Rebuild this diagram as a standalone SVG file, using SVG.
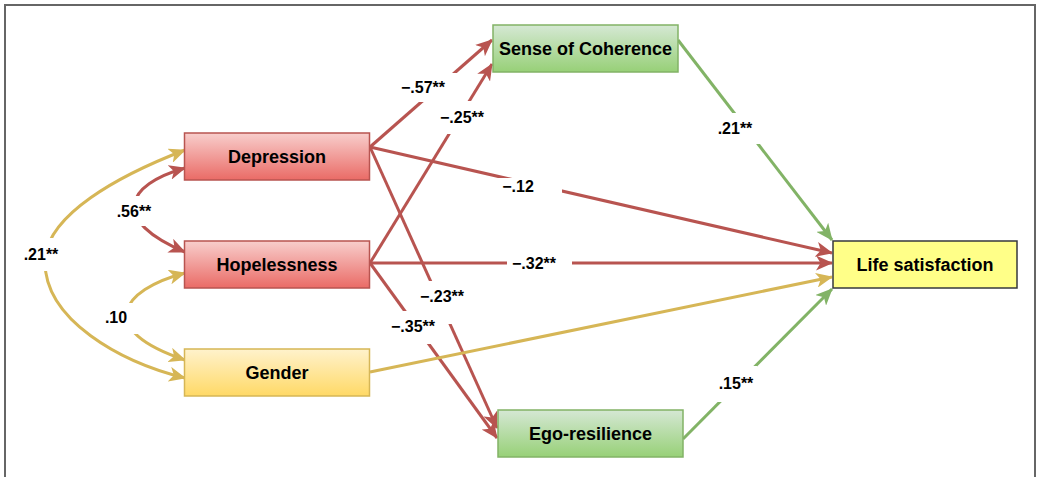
<svg xmlns="http://www.w3.org/2000/svg" width="1037" height="477" viewBox="0 0 1037 477">
<style>
text{font-family:"Liberation Sans",Arial,sans-serif;font-weight:bold;fill:#000;}
.nl{font-size:18px;text-anchor:middle;}
.el{font-size:16px;text-anchor:middle;}
.c{fill:none;stroke-width:3;}
.r{stroke:#b85450;}
.y{stroke:#d6b656;}
.g{stroke:#82b366;}
.bg{fill:#fff;stroke:none;}
</style>
<defs>
<linearGradient id="gr" x1="0" y1="0" x2="0" y2="1"><stop offset="0" stop-color="#f8cecc"/><stop offset="1" stop-color="#ea6b66"/></linearGradient>
<linearGradient id="gy" x1="0" y1="0" x2="0" y2="1"><stop offset="0" stop-color="#fff2cc"/><stop offset="1" stop-color="#ffd966"/></linearGradient>
<linearGradient id="gg" x1="0" y1="0" x2="0" y2="1"><stop offset="0" stop-color="#d5e8d4"/><stop offset="1" stop-color="#97d077"/></linearGradient>
<marker id="ar" viewBox="0 0 17 15" refX="16" refY="7.5" markerWidth="17" markerHeight="15" markerUnits="userSpaceOnUse" orient="auto-start-reverse"><path d="M0,0 L17,7.5 L0,15 L4.5,7.5 Z" fill="#b85450"/></marker>
<marker id="ay" viewBox="0 0 17 15" refX="16" refY="7.5" markerWidth="17" markerHeight="15" markerUnits="userSpaceOnUse" orient="auto-start-reverse"><path d="M0,0 L17,7.5 L0,15 L4.5,7.5 Z" fill="#d6b656"/></marker>
<marker id="ag" viewBox="0 0 17 15" refX="16" refY="7.5" markerWidth="17" markerHeight="15" markerUnits="userSpaceOnUse" orient="auto-start-reverse"><path d="M0,0 L17,7.5 L0,15 L4.5,7.5 Z" fill="#82b366"/></marker>
</defs>
<rect width="1037" height="477" fill="#fff"/>
<path d="M5,477 V5 H1035 V477" fill="none" stroke="#666" stroke-width="2"/>
<g id="connectors">
<path class="c r" d="M370,147 L492,40" marker-end="url(#ar)"/>
<path class="c r" d="M370,263 L492,64" marker-end="url(#ar)"/>
<path class="c r" d="M370,147 L832,253" marker-end="url(#ar)"/>
<path class="c r" d="M370,147 L497,428" marker-end="url(#ar)"/>
<path class="c r" d="M370,263 L832,263" marker-end="url(#ar)"/>
<path class="c r" d="M370,263 L497,438" marker-end="url(#ar)"/>
<path class="c r" d="M185,168 C125,185 110,220 185,252" marker-start="url(#ar)" marker-end="url(#ar)"/>
<path class="c y" d="M370,372 L832,277" marker-end="url(#ay)"/>
<path class="c y" d="M185,150 C120,175 45,215 45,262 C45,320 120,362 185,378" marker-start="url(#ay)" marker-end="url(#ay)"/>
<path class="c y" d="M185,273 C120,290 95,330 185,360" marker-start="url(#ay)" marker-end="url(#ay)"/>
<path class="c g" d="M678,40 L832,240" marker-end="url(#ag)"/>
<path class="c g" d="M683,439 L832,289" marker-end="url(#ag)"/>
<rect class="bg" x="398" y="73" width="60" height="29"/><text class="el" x="423" y="93">−.57**</text>
<rect class="bg" x="437" y="101" width="50" height="33"/><text class="el" x="462" y="123">−.25**</text>
<rect class="bg" x="498" y="178" width="64" height="20"/><text class="el" x="518" y="192">−.12</text>
<rect class="bg" x="507" y="254" width="65" height="20"/><text class="el" x="534" y="269">−.32**</text>
<rect class="bg" x="417" y="281" width="49" height="43"/><text class="el" x="442" y="302">−.23**</text>
<rect class="bg" x="388" y="311" width="49" height="33"/><text class="el" x="413" y="332">−.35**</text>
<rect class="bg" x="712" y="113" width="48" height="31"/><text class="el" x="735" y="134">.21**</text>
<rect class="bg" x="715" y="366" width="42" height="36"/><text class="el" x="736" y="389">.15**</text>
<rect class="bg" x="114" y="196" width="40" height="30"/><text class="el" x="134" y="217">.56**</text>
<rect class="bg" x="100" y="303" width="40" height="31"/><text class="el" x="116" y="323">.10</text>
<rect class="bg" x="19" y="238" width="44" height="33"/><text class="el" x="41" y="260">.21**</text>
</g>
<g id="depression"><rect x="184.5" y="133" width="185" height="47" fill="url(#gr)" stroke="#b85450" stroke-width="1.5"/><text class="nl" x="277" y="163">Depression</text></g>
<g id="hopelessness"><rect x="184.5" y="241" width="185" height="47" fill="url(#gr)" stroke="#b85450" stroke-width="1.5"/><text class="nl" x="277" y="271">Hopelessness</text></g>
<g id="gender"><rect x="184.5" y="349" width="185" height="47" fill="url(#gy)" stroke="#d6b656" stroke-width="1.5"/><text class="nl" x="277" y="379">Gender</text></g>
<g id="sense-of-coherence"><rect x="493" y="25" width="185" height="47" fill="url(#gg)" stroke="#82b366" stroke-width="1.5"/><text class="nl" x="585.5" y="55">Sense of Coherence</text></g>
<g id="ego-resilience"><rect x="498" y="410" width="185" height="47" fill="url(#gg)" stroke="#82b366" stroke-width="1.5"/><text class="nl" x="590.5" y="440">Ego-resilience</text></g>
<g id="life-satisfaction"><rect x="833" y="241" width="184" height="47" fill="#ffff88" stroke="#36393d" stroke-width="1.5"/><text class="nl" x="925" y="271">Life satisfaction</text></g>
</svg>
